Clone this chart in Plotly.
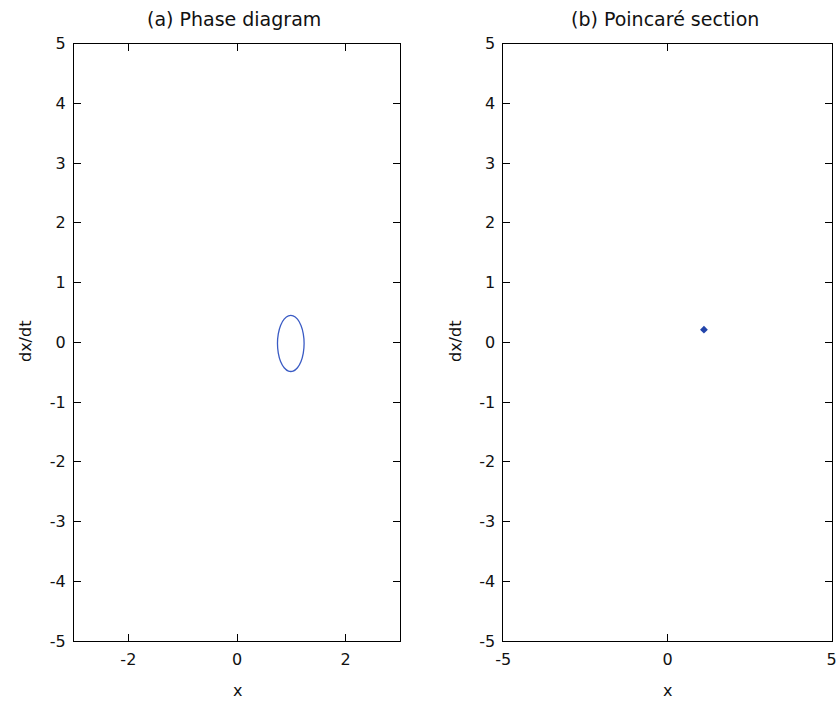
import plotly.graph_objects as go

# Phase diagram: closed orbit
orbit_x = [1.235, 1.220, 1.178, 1.113, 1.033, 0.947, 0.868, 0.802, 0.760, 0.745,
           0.760, 0.802, 0.868, 0.947, 1.033, 1.113, 1.178, 1.220, 1.235]
orbit_v = [-0.02, 0.141, 0.282, 0.387, 0.443, 0.443, 0.387, 0.282, 0.141, -0.02,
           -0.181, -0.322, -0.427, -0.483, -0.483, -0.427, -0.322, -0.181, -0.02]

# Poincare section point
poinc_x = [1.11]
poinc_v = [0.21]

y_ticks = [-5, -4, -3, -2, -1, 0, 1, 2, 3, 4, 5]
y_tick_text = ["-5", "-4", "-3", "-2", "-1", "0", "1", "2", "3", "4", "5"]
x1_ticks = [-2, 0, 2]
x1_tick_text = ["-2", "0", "2"]
x2_ticks = [-5, 0, 5]
x2_tick_text = ["-5", "0", "5"]

FONT = "DejaVu Sans"
TXT = "#111111"
FW, FH = 836, 702


def px(x):
    return x / FW


def py(y):
    return (FH - y) / FH


fig = go.Figure()
fig.add_trace(go.Scatter(x=orbit_x, y=orbit_v, mode="lines",
                         line=dict(color="#3a5bc4", width=1.3, shape="spline"),
                         xaxis="x", yaxis="y", showlegend=False, hoverinfo="skip"))
fig.add_trace(go.Scatter(x=poinc_x, y=poinc_v, mode="markers",
                         marker=dict(symbol="diamond", size=6, color="#2244aa"),
                         xaxis="x2", yaxis="y2", showlegend=False))

axis_common = dict(showline=True, linecolor="black", linewidth=1, mirror="ticks",
                   ticks="inside", ticklen=7, tickcolor="black", tickwidth=1,
                   showgrid=False, zeroline=False, automargin=False,
                   ticklabeloverflow="allow",
                   tickfont=dict(family=FONT, size=16, color=TXT), ticklabelstandoff=4)

ydom = [py(641), py(43.5)]
x1dom = [px(74), px(400)]
x2dom = [px(503.3), px(831.7)]

fig.update_layout(
    width=FW, height=FH, margin=dict(l=0, r=0, t=0, b=0),
    paper_bgcolor="white", plot_bgcolor="white",
    xaxis=dict(domain=x1dom, range=[-3, 3], tickmode="array", tickvals=x1_ticks, ticktext=x1_tick_text,
               anchor="y", **axis_common),
    yaxis=dict(domain=ydom, range=[-5, 5], tickmode="array", tickvals=y_ticks, ticktext=y_tick_text,
               anchor="x", **axis_common),
    xaxis2=dict(domain=x2dom, range=[-5, 5], tickmode="array", tickvals=x2_ticks, ticktext=x2_tick_text,
                anchor="y2", **axis_common),
    yaxis2=dict(domain=ydom, range=[-5, 5], tickmode="array", tickvals=y_ticks, ticktext=y_tick_text,
                anchor="x2", **axis_common),
)

title_font = dict(family=FONT, size=19, color=TXT)
label_font = dict(family=FONT, size=16, color=TXT)
annotations = [
    dict(text="(a) Phase diagram", x=px(234), y=py(19), font=title_font),
    dict(text="(b) Poincaré section", x=px(665), y=py(19), font=title_font),
    dict(text="x", x=px(237), y=py(690), font=label_font),
    dict(text="x", x=px(667.5), y=py(690), font=label_font),
    dict(text="dx/dt", x=px(25), y=py(342), textangle=-90, font=label_font),
    dict(text="dx/dt", x=px(455), y=py(342), textangle=-90, font=label_font),
]
for a in annotations:
    fig.add_annotation(xref="paper", yref="paper", showarrow=False, xanchor="center", yanchor="middle", **a)

fig.write_html("out.html", config={"displayModeBar": False},
               post_script="document.body.style.margin='0';document.body.style.overflow='hidden';")
